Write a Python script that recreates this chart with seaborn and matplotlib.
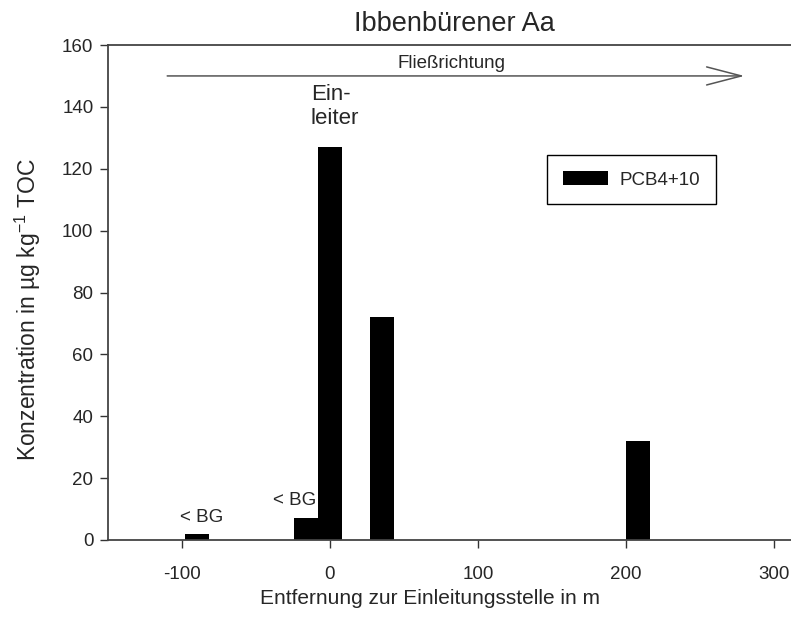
import matplotlib
matplotlib.use("Agg")
import matplotlib.pyplot as plt
import seaborn as sns

# ── data ───────────────────────────────────────────────────────────────────
distance_m = [-90, -16, 0, 35, 208]          # Entfernung zur Einleitungsstelle
pcb_conc   = [2, 7, 127, 72, 32]             # µg kg-1 TOC
series     = "PCB4+10"

x_ticks = [-100, 0, 100, 200, 300]
y_ticks = list(range(0, 161, 20))

# ── style ──────────────────────────────────────────────────────────────────
sns.set_style("ticks")
plt.rcParams["font.family"] = ["Liberation Sans", "DejaVu Sans"]
plt.rcParams["mathtext.default"] = "regular"
plt.rcParams["axes.unicode_minus"] = False

fig = plt.figure(figsize=(7.91, 6.2), dpi=100)
ax = fig.add_axes([108 / 791, 80 / 620, 683 / 791, 495 / 620])

sns.barplot(
    x=distance_m, y=pcb_conc, native_scale=True, color="black",
    width=1.0, errorbar=None, label=series, ax=ax,
    edgecolor="black", linewidth=0,
)

ax.set_xlim(-150, 311.5)
ax.set_ylim(0, 160)
ax.set_xticks(x_ticks)
ax.set_yticks(y_ticks)
ax.tick_params(axis="both", direction="out", length=5.5, width=1,
               color="#333333", labelsize=13.5)
ax.tick_params(axis="x", pad=13)
ax.tick_params(axis="y", pad=5)

for side in ("left", "bottom", "top"):
    ax.spines[side].set_color("#444444")
    ax.spines[side].set_linewidth(1.3)
ax.spines["right"].set_visible(False)

ax.set_title("Ibbenbürener Aa", fontsize=19.5, pad=10, x=0.507)
ax.set_xlabel("Entfernung zur Einleitungsstelle in m", fontsize=15)
ax.xaxis.set_label_coords(0.471, -0.1)
ax.set_ylabel("Konzentration in µg kg$^{-1}$ TOC", fontsize=16.5)
ax.yaxis.set_label_coords(-0.095, 0.465)

# flow direction arrow
ax.annotate(
    "", xy=(280, 150), xytext=(-110, 150),
    arrowprops=dict(arrowstyle="->,head_length=2.5,head_width=0.65",
                    mutation_scale=10, lw=1.1, color="#555555",
                    shrinkA=0, shrinkB=0),
)
ax.text(82, 154, "Fließrichtung", ha="center", va="center", fontsize=13.5)

# annotations
ax.text(-13, 133, "Ein-\nleiter", ha="left", va="bottom", fontsize=16,
        linespacing=1.15)
ax.text(-87, 4.5, "< BG", ha="center", va="bottom", fontsize=13.5)
ax.text(-24, 10, "< BG", ha="center", va="bottom", fontsize=13.5)

leg = ax.legend(
    loc="upper left", bbox_to_anchor=(0.643, 0.778), borderaxespad=0,
    fontsize=13.5, frameon=True, fancybox=False, shadow=False,
    handlelength=2.4, handleheight=0.8, borderpad=0.85, handletextpad=0.6,
)
leg.get_frame().set_edgecolor("black")
leg.get_frame().set_linewidth(1.0)
leg.get_frame().set_alpha(1)

fig.savefig("out.png", dpi=100)
